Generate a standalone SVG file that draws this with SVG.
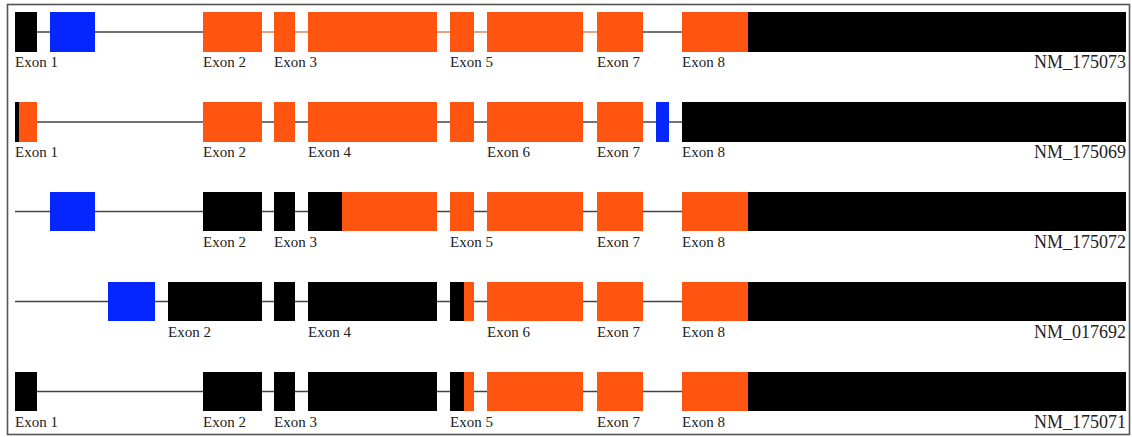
<svg xmlns="http://www.w3.org/2000/svg" width="1132" height="437" viewBox="0 0 1132 437">
<style>
.o{fill:#ff5510}.b{fill:#0526ff}.k{fill:#000}
.ln{stroke:#444;stroke-width:1.6;fill:none}
.lo{stroke:#e0845c;stroke-width:1.6;fill:none}
.ex{font-family:"Liberation Serif",serif;font-size:15px;fill:#222}
.nm{font-family:"Liberation Serif",serif;font-size:18px;fill:#222;text-anchor:end}
</style>
<rect x="0" y="0" width="1132" height="437" fill="#fff"/>
<rect x="7.5" y="4.5" width="1122" height="430" fill="none" stroke="#555" stroke-width="1.6"/>
<g id="connectors">
<line class="ln" x1="37" y1="32" x2="262" y2="32"/>
<line class="lo" x1="262" y1="32" x2="597" y2="32"/>
<line class="ln" x1="597" y1="32" x2="682" y2="32"/>
<line class="ln" x1="37" y1="122" x2="682" y2="122"/>
<line class="ln" x1="15" y1="211.5" x2="682" y2="211.5"/>
<line class="ln" x1="15" y1="301.5" x2="682" y2="301.5"/>
<line class="ln" x1="37" y1="391.5" x2="682" y2="391.5"/>
</g>
<g id="NM_175073">
<rect class="k" x="15" y="12" width="22" height="40"/>
<rect class="b" x="50" y="12" width="45" height="40"/>
<rect class="o" x="203" y="12" width="59" height="40"/>
<rect class="o" x="274" y="12" width="21" height="40"/>
<rect class="o" x="308" y="12" width="129" height="40"/>
<rect class="o" x="450" y="12" width="24" height="40"/>
<rect class="o" x="487" y="12" width="96" height="40"/>
<rect class="o" x="597" y="12" width="46" height="40"/>
<rect class="o" x="682" y="12" width="66" height="40"/>
<rect class="k" x="748" y="12" width="378" height="40"/>
<text class="ex" x="15" y="66.5">Exon 1</text>
<text class="ex" x="203" y="66.5">Exon 2</text>
<text class="ex" x="274" y="66.5">Exon 3</text>
<text class="ex" x="450" y="66.5">Exon 5</text>
<text class="ex" x="597" y="66.5">Exon 7</text>
<text class="ex" x="682" y="66.5">Exon 8</text>
<text class="nm" x="1126" y="68">NM_175073</text>
</g>
<g id="NM_175069">
<rect class="o" x="15" y="102" width="22" height="40"/>
<rect class="k" x="15" y="102" width="4" height="40"/>
<rect class="o" x="203" y="102" width="59" height="40"/>
<rect class="o" x="274" y="102" width="21" height="40"/>
<rect class="o" x="308" y="102" width="129" height="40"/>
<rect class="o" x="450" y="102" width="24" height="40"/>
<rect class="o" x="487" y="102" width="96" height="40"/>
<rect class="o" x="597" y="102" width="46" height="40"/>
<rect class="b" x="656" y="102" width="13" height="40"/>
<rect class="k" x="682" y="102" width="444" height="40"/>
<text class="ex" x="15" y="156.5">Exon 1</text>
<text class="ex" x="203" y="156.5">Exon 2</text>
<text class="ex" x="308" y="156.5">Exon 4</text>
<text class="ex" x="487" y="156.5">Exon 6</text>
<text class="ex" x="597" y="156.5">Exon 7</text>
<text class="ex" x="682" y="156.5">Exon 8</text>
<text class="nm" x="1126" y="158">NM_175069</text>
</g>
<g id="NM_175072">
<rect class="b" x="50" y="192" width="45" height="39"/>
<rect class="k" x="203" y="192" width="59" height="39"/>
<rect class="k" x="274" y="192" width="21" height="39"/>
<rect class="k" x="308" y="192" width="34" height="39"/>
<rect class="o" x="342" y="192" width="95" height="39"/>
<rect class="o" x="450" y="192" width="24" height="39"/>
<rect class="o" x="487" y="192" width="96" height="39"/>
<rect class="o" x="597" y="192" width="46" height="39"/>
<rect class="o" x="682" y="192" width="66" height="39"/>
<rect class="k" x="748" y="192" width="378" height="39"/>
<text class="ex" x="203" y="246.5">Exon 2</text>
<text class="ex" x="274" y="246.5">Exon 3</text>
<text class="ex" x="450" y="246.5">Exon 5</text>
<text class="ex" x="597" y="246.5">Exon 7</text>
<text class="ex" x="682" y="246.5">Exon 8</text>
<text class="nm" x="1126" y="248">NM_175072</text>
</g>
<g id="NM_017692">
<rect class="b" x="108" y="282" width="47" height="39"/>
<rect class="k" x="168" y="282" width="94" height="39"/>
<rect class="k" x="274" y="282" width="21" height="39"/>
<rect class="k" x="308" y="282" width="129" height="39"/>
<rect class="k" x="450" y="282" width="14" height="39"/>
<rect class="o" x="464" y="282" width="10" height="39"/>
<rect class="o" x="487" y="282" width="96" height="39"/>
<rect class="o" x="597" y="282" width="46" height="39"/>
<rect class="o" x="682" y="282" width="66" height="39"/>
<rect class="k" x="748" y="282" width="378" height="39"/>
<text class="ex" x="168" y="337">Exon 2</text>
<text class="ex" x="308" y="337">Exon 4</text>
<text class="ex" x="487" y="337">Exon 6</text>
<text class="ex" x="597" y="337">Exon 7</text>
<text class="ex" x="682" y="337">Exon 8</text>
<text class="nm" x="1126" y="338">NM_017692</text>
</g>
<g id="NM_175071">
<rect class="k" x="15" y="372" width="22" height="39"/>
<rect class="k" x="203" y="372" width="59" height="39"/>
<rect class="k" x="274" y="372" width="21" height="39"/>
<rect class="k" x="308" y="372" width="129" height="39"/>
<rect class="k" x="450" y="372" width="14" height="39"/>
<rect class="o" x="464" y="372" width="10" height="39"/>
<rect class="o" x="487" y="372" width="96" height="39"/>
<rect class="o" x="597" y="372" width="46" height="39"/>
<rect class="o" x="682" y="372" width="66" height="39"/>
<rect class="k" x="748" y="372" width="378" height="39"/>
<text class="ex" x="15" y="426.5">Exon 1</text>
<text class="ex" x="203" y="426.5">Exon 2</text>
<text class="ex" x="274" y="426.5">Exon 3</text>
<text class="ex" x="450" y="426.5">Exon 5</text>
<text class="ex" x="597" y="426.5">Exon 7</text>
<text class="ex" x="682" y="426.5">Exon 8</text>
<text class="nm" x="1126" y="428">NM_175071</text>
</g>
</svg>
